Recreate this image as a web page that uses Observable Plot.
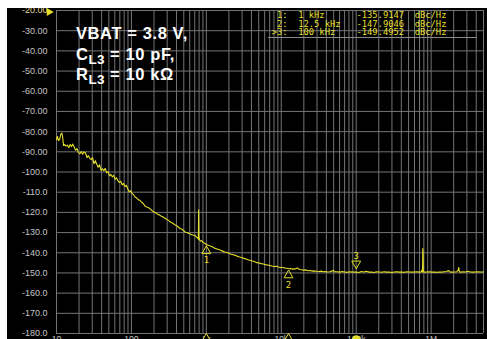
<!DOCTYPE html>
<html><head><meta charset="utf-8">
<script src="https://cdn.jsdelivr.net/npm/d3@7"></script>
<script src="https://cdn.jsdelivr.net/npm/@observablehq/plot@0.6"></script>
<style>
html,body{margin:0;padding:0;background:#fff;width:487px;height:339px;overflow:hidden;position:relative}
#chart{position:absolute;left:7px;top:8px}
#chart svg{display:block}
.note{position:absolute;left:76px;color:#fff;font:bold 16.5px "Liberation Sans",Arial,sans-serif;letter-spacing:0.6px;white-space:nowrap;line-height:16px}
.note sub{font-size:13.5px;vertical-align:-4px;line-height:0;letter-spacing:0.3px}
#rows{position:absolute;left:271.7px;top:10.8px;color:#e6df2a;font:8.8px "DejaVu Sans Mono",monospace;white-space:pre;line-height:8.85px}
#mkbox{position:absolute;left:268px;top:10px;width:209px;height:27px;border-bottom:1px solid #8a8a8a}
</style></head><body>
<div id="chart"></div>
<div id="mkbox"></div>
<div class="note" style="top:25.3px">VBAT = 3.8 V,</div>
<div class="note" style="top:46.3px">C<sub>L3</sub> = 10 pF,</div>
<div class="note" style="top:66.3px">R<sub>L3</sub> = 10 kΩ</div>
<div id="rows"></div>
<script>
// ---- data ----
const curveFreqHz = [
10,10.3,10.6,11.0,11.4,11.8,12.1,12.4,12.9,13.4,14.0,14.6,15.2,15.8,16.5,17.2,18.0,18.8,19.6,20.5,21.4,22.3,23.3,24.4,25.5,26.6,27.8,29.0,30.3,31.6,33.0,34.5,36.0,37.6,39.3,41.0,42.8,44.7,46.7,48.8,51.0,53.2,55.6,58.0,60.6,63.3,66.1,69.0,72.1,75.3,78.6,82.1,85.7,89.5,93.5,97.6,
102,107,112,118,124,130,137,144,151,158,166,175,184,193,203,213,224,236,248,261,274,288,303,318,334,352,370,389,409,430,452,475,500,525,552,580,610,641,674,708,745,770,782,789,792,796,810,840,870,905,950,1000,
1060,1130,1200,1280,1360,1450,1550,1650,1760,1880,2000,2140,2280,2430,2600,2780,2970,3170,3390,3620,3870,4130,4420,4720,5040,5390,5760,6150,6570,7020,7500,8020,8570,9150,9780,10450,11170,11930,12500,13400,14300,15300,16350,17500,18700,20000,21400,22900,24400,26100,27900,29800,31900,34100,36400,38900,41600,44400,47500,49400,51000,
55000,60000,65000,70000,76000,82000,89000,96000,100000,108000,117000,127000,137000,148000,160000,173000,187000,202000,218000,236000,255000,276000,298000,322000,348000,376000,406000,439000,474000,512000,553000,597000,645000,697000,740000,760000,768000,774000,781000,788000,820000,880000,950000,1020000,1100000,1190000,1280000,1380000,1490000,1610000,1700000,1780000,1900000,2050000,2200000,2300000,2340000,2380000,2500000,2700000,2900000,3100000,3350000,3600000,3900000,4200000,4550000,5000000
];
const curveDbcHz = [
-83.9,-82.4,-84.4,-83.9,-81.4,-80.7,-82.9,-86.9,-86.4,-87.2,-86.7,-87.9,-86.4,-87.4,-86.2,-87.6,-89.2,-88.4,-90.4,-90.9,-89.9,-91.2,-90.0,-90.6,-92.9,-91.9,-93.2,-93.9,-92.9,-95.9,-94.4,-96.2,-97.6,-96.4,-99.2,-98.4,-99.4,-98.2,-100.4,-99.8,-101.9,-101.2,-102.4,-101.7,-103.6,-102.9,-104.4,-105.2,-104.6,-106.4,-105.7,-107.2,-106.6,-108.4,-109.9,-109.2,
-110.6,-111.3,-112.4,-112.9,-113.8,-114.0,-115.0,-115.6,-116.8,-117.2,-117.6,-118.0,-118.8,-119.4,-119.9,-120.3,-120.9,-121.3,-121.8,-122.2,-122.7,-123.2,-123.6,-124.2,-124.9,-125.3,-125.8,-126.4,-126.8,-127.5,-128.1,-128.4,-129.1,-129.8,-130.0,-130.5,-130.7,-131.1,-131.3,-131.5,-132.4,-132.8,-133.3,-118.7,-126.5,-132.2,-133.6,-134.3,-134.0,-134.9,-135.3,-135.9,
-136.3,-136.7,-137.0,-137.7,-138.0,-138.4,-138.8,-139.2,-139.6,-139.9,-140.3,-140.7,-141.0,-141.3,-141.7,-142.1,-142.4,-142.8,-143.1,-143.5,-143.8,-144.1,-144.5,-144.9,-145.1,-145.4,-145.6,-145.9,-146.1,-146.3,-146.6,-146.8,-146.7,-147.1,-147.3,-147.3,-147.6,-147.7,-147.9,-147.8,-148.1,-148.0,-147.5,-148.3,-148.4,-148.6,-148.5,-148.9,-148.8,-149.1,-149.0,-149.2,-149.3,-149.1,-149.4,-149.3,-149.5,-149.4,-149.1,-148.7,-149.4,
-149.4,-149.6,-149.3,-149.5,-149.7,-149.4,-149.5,-149.6,-149.5,-149.8,-149.3,-149.5,-149.2,-149.6,-149.5,-149.8,-149.4,-149.5,-149.7,-149.4,-149.6,-149.5,-149.8,-149.5,-149.4,-149.6,-149.5,-149.7,-149.4,-149.5,-149.6,-149.5,-149.4,-149.6,-149.5,-148.3,-149.5,-137.9,-140.0,-149.5,-149.6,-149.5,-149.4,-149.6,-149.5,-149.7,-149.5,-149.6,-149.4,-149.3,-148.8,-149.5,-149.6,-149.5,-149.4,-148.5,-147.3,-149.5,-149.6,-149.4,-149.5,-149.2,-149.5,-149.6,-149.5,-149.4,-149.5,-149.5
];
const markerIds = [1, 2, 3];
const markerFreqs = [1000, 12500, 100000];
const markerFreqLabels = ["1 kHz", "12.5 kHz", "100 kHz"];
const markerValues = [-135.9147, -147.9046, -149.4952];
const markerActive = [false, false, true];
const xTicks = [10, 100, 1000, 10000, 100000, 1000000];
const xTickLabels = ["10", "100", "1k", "10k", "100k", "1M"];
const yTicks = [-20, -30, -40, -50, -60, -70, -80, -90, -100, -110, -120, -130, -140, -150, -160, -170, -180];
const refLevel = -20;
const unitText = "dBc/Hz";

// ---- build ----
const YEL = "#e6df2a";
const GRID = "#747474";
const curve = curveFreqHz.map((f, i) => ({f, v: curveDbcHz[i]}));
const markers = markerIds.map((id, i) => ({id, f: markerFreqs[i], v: markerValues[i], active: markerActive[i]}));
const gridFreqs = [];
for (let k = 1; k <= 6; k++) for (let m = 1; m <= 9; m++) {
  const g = m * Math.pow(10, k);
  if (g <= 5e6) gridFreqs.push(g);
}
const xLabel = new Map(xTicks.map((t, i) => [t, xTickLabels[i]]));
const yFmt = d => (d >= -90 ? d.toFixed(2) : d.toFixed(1));

const chart = Plot.plot({
  width: 480, height: 331,
  marginLeft: 49, marginRight: 4, marginTop: 2, marginBottom: 6,
  style: {background: "#000", color: "#c4c4c4", fontFamily: '"Liberation Sans", Arial, sans-serif', fontSize: "9px"},
  x: {type: "log", domain: [10, 5e6]},
  y: {domain: [-180, -20]},
  marks: [
    Plot.ruleX(gridFreqs, {stroke: GRID}),
    Plot.ruleY(yTicks, {stroke: GRID}),
    Plot.axisY(yTicks.filter(t => t !== refLevel), {label: null, tickSize: 0, tickPadding: 9, tickFormat: yFmt, fill: "#c4c4c4", fontSize: 9}),
    Plot.axisY([refLevel], {label: null, tickSize: 0, tickPadding: 9, tickFormat: yFmt, fill: "#e4dc9a", fontSize: 9}),
    Plot.axisX(xTicks, {label: null, tickSize: 0, tickPadding: 2, tickFormat: d => xLabel.get(d), fill: "#c4c4c4", fontSize: 8.5}),
    Plot.dot([refLevel], {x: () => 10, y: d => d, symbol: "triangle", rotate: 90, r: 3, fill: YEL, stroke: "none", dx: -7.4, dy: 1.5}),
    Plot.line(curve, {x: "f", y: "v", stroke: YEL, strokeWidth: 1.1}),
    Plot.dot(markers.filter(d => !d.active), {x: "f", y: "v", symbol: "triangle", r: 3.3, stroke: YEL, fill: "none", strokeWidth: 1, dy: 6.5}),
    Plot.text(markers.filter(d => !d.active), {x: "f", y: "v", text: d => String(d.id), dy: 16, fill: YEL, fontSize: 9, fontFamily: "DejaVu Sans Mono"}),
    Plot.dot(markers.filter(d => d.active), {x: "f", y: "v", symbol: "triangle", rotate: 180, r: 3.3, stroke: YEL, fill: "none", strokeWidth: 1, dy: -8.3}),
    Plot.text(markers.filter(d => d.active), {x: "f", y: "v", text: d => String(d.id), dy: -16, fill: YEL, fontSize: 9, fontFamily: "DejaVu Sans Mono"}),
    Plot.dot(markers.filter(d => !d.active), {x: "f", frameAnchor: "bottom", symbol: "triangle", r: 4.5, fill: "#000", stroke: YEL, strokeWidth: 1, dy: 7}),
    Plot.dot(markers.filter(d => d.active), {x: "f", frameAnchor: "bottom", symbol: "circle", r: 4.3, fill: YEL, stroke: "none", dy: 6})
  ]
});
document.getElementById("chart").appendChild(chart);

// marker table (one text block)
document.getElementById("rows").textContent = markers.map((m, i) => {
  const head = (m.active ? ">" : " ") + m.id + ":";
  return (head + "  " + markerFreqLabels[i]).padEnd(16, " ") + m.v.toFixed(4) + "  " + unitText;
}).join("\n");
</script>
</body></html>
